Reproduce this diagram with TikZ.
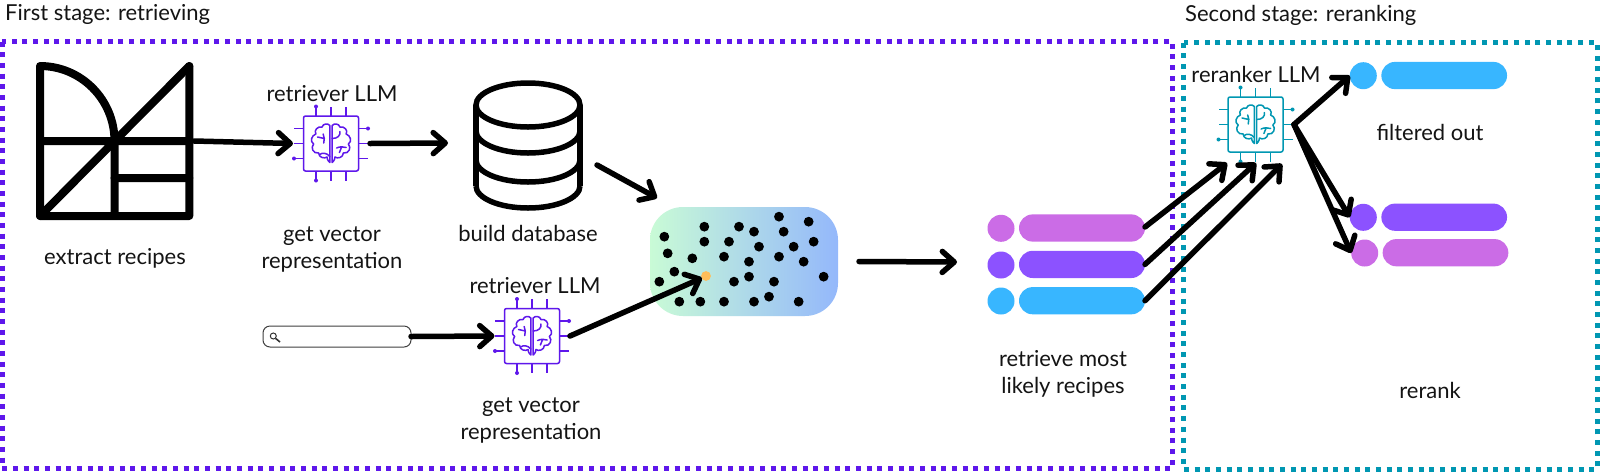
\documentclass[tikz,border=0pt]{standalone}
\usepackage{fontspec}
\setmainfont{Lato}
\usetikzlibrary{arrows.meta,calc}
\definecolor{cpurple}{HTML}{5E17EB}
\definecolor{cteal}{HTML}{0097B2}
\definecolor{cpink}{HTML}{CB6CE6}
\definecolor{cviolet}{HTML}{8C52FF}
\definecolor{cblue}{HTML}{38B6FF}
\definecolor{corange}{HTML}{FFBD59}
\definecolor{gleft}{HTML}{C9FBD6}
\definecolor{gright}{HTML}{94B8FB}
\tikzset{
  lab/.style={font=\fontsize{22}{26}\selectfont,text=black!92,inner sep=0pt,align=center},
  arr/.style={line width=5.5pt,-{Straight Barb[round,length=12pt,width=21pt]},black,line cap=round,line join=round},
  stagebox/.style={line width=5pt,dash pattern=on 5pt off 5.67pt},
  blob/.style={circle,fill=#1,minimum size=27pt,inner sep=0pt,outer sep=0pt},
  bar/.style={rounded corners=13.6pt,fill=#1,minimum height=27.2pt,minimum width=126pt,inner sep=0pt,outer sep=0pt},
  ghost/.style={inner sep=0pt,outer sep=0pt},
  dotty/.style={circle,fill=black,minimum size=9.8pt,inner sep=0pt,outer sep=0pt},
}
\newcommand{\chipicon}[4]{%
  \node[draw=#4,line width=1.5pt,rounded corners=2pt,minimum size=55pt,inner sep=0pt,outer sep=0pt,fill=white] (#1) at (#2,#3) {};
  \begin{scope}[shift={(#2,#3)},draw=#4,line width=1.5pt]
    \foreach \k in {-15,0,15}{
      \draw (\k,-27.5) -- (\k,-37);
      \draw (\k,27.5) -- (\k,37);
      \draw (-27.5,\k) -- (-37,\k);
      \draw (27.5,\k) -- (37,\k);
    }
    \fill[#4] (-15,-37) circle (2pt) (-15,37) circle (2pt) (37,-15) circle (2pt) (-37,15) circle (2pt);
    \begin{scope}[line width=1.5pt,line join=round,line cap=round,xscale=1.12]
      \foreach \sx in {1,-1}{
      \begin{scope}[xscale=\sx]
        \draw (1,-18) .. controls (3,-20.5) and (7,-20) .. (8,-16.5)
           .. controls (12,-17.5) and (15.5,-13) .. (13.5,-9.5)
           .. controls (17.5,-8) and (19,-2) .. (15.5,0.5)
           .. controls (18.5,4) and (16,10.5) .. (11,9.5)
           .. controls (11,14) and (6,15.5) .. (3.5,13.5)
           .. controls (3.5,17) and (1,19) .. (1,19) -- (1,-18);
      \end{scope}}
      \draw (-12,-6.5) -- (-6,-5) (-7,-9.5) -- (-6,-5) -- (-6.5,-0.5);
      \draw (8,-12) .. controls (8.5,-8) and (6,-5) .. (1,-5);
      \draw (5,4.5) .. controls (8,3) and (11,3) .. (13.5,4) (9.5,3.5) .. controls (9,5.5) and (8.5,7) .. (7.5,9);
      \draw (-1,13) .. controls (-4,9) and (-8,9) .. (-10,11);
    \end{scope}
  \end{scope}%
}
\begin{document}
\begin{tikzpicture}[x=1pt,y=-1pt]
\useasboundingbox (0,0) rectangle (1600,475);
\fill[white] (0,0) rectangle (1600,475);
% stage frames
\draw[stagebox,cpurple] (2,41.5) rectangle (1172.7,468);
\draw[stagebox,cteal] (1183.7,42.7) rectangle (1597,469.3);
\node[lab,anchor=west] (stageA) at (5,14) {First stage: retrieving};
\node[lab,anchor=west] (stageB) at (1185,15) {Second stage: reranking};
% document icon
\node[ghost,minimum size=150pt] (icon) at (114.5,141) {};
\draw[line width=8pt,line join=round,line cap=round] (189.3,66) -- (189.3,216) -- (40,216) -- (40,66) .. controls (81,66) and (114.5,99.5) .. (114.5,141) -- (114.5,216);
\draw[line width=8pt,line cap=round] (40,141) -- (189.3,141) (114.5,178) -- (189.3,178) (40,216) -- (189.3,66);
\node[lab] (extract) at (115,258) {extract recipes};
% chips
\chipicon{r1}{331}{143.5}{cpurple}
\node[lab] (r1t) at (332,94) {retriever LLM};
\node[lab] (r1b) at (332,249) {get vector\\[1pt]representation};
% database
\node[ghost,minimum width=110pt,minimum height=132pt] (db) at (528,146) {};
\begin{scope}[line width=5.5pt]
\draw (528,105) ellipse [x radius=52,y radius=22];
\draw (476,105) -- (476,186) (580,105) -- (580,186);
\foreach \yy in {131,160,186}{
  \draw (476,\yy) .. controls (476,\yy+12) and (499,\yy+22) .. (528,\yy+22) .. controls (557,\yy+22) and (580,\yy+12) .. (580,\yy);
}
\end{scope}
\node[lab] (dbt) at (528,233) {build database};
% search
\node[draw=black!75,line width=1pt,rounded corners=7pt,minimum width=148pt,minimum height=21pt,inner sep=0pt,outer sep=0pt] (search) at (337,336.5) {};
\draw[line width=1pt,black!80] (273.3,336) circle (3pt);
\draw[line width=1.6pt,black!80] (275.6,338.4) -- (280,342);
\chipicon{r2}{532}{336}{cpurple}
\node[lab] (r2t) at (535,286) {retriever LLM};
\node[lab] (r2b) at (531,420) {get vector\\[1pt]representation};
% cloud
\node[rounded corners=33pt,left color=gleft,right color=gright,middle color=gleft!50!gright,minimum width=188pt,minimum height=109pt,inner sep=0pt,outer sep=0pt] (cloud) at (744,261.5) {};
\begin{scope}[shift={(620,190)},x=0.3333pt,y=-0.3333pt]
\foreach \px/\py in {477/80,566/95,253/110,357/110,402/125,491/125,133/140,253/155,327/155,581/155,417/170,521/170,143/190,217/205,312/200,387/215,477/200,551/215,163/245,118/275,342/275,387/260,462/275,611/260,178/335,241/335,312/335,402/335,447/320,536/335}
  \node[dotty] (d\px) at (\px,\py) {};
\node[dotty,fill=corange] (orange) at (258,258) {};
\end{scope}
% retrieved list
\node[blob=cpink] (lc1) at (1001,228.3) {};
\node[bar=cpink] (lb1) at (1082,228) {};
\node[blob=cviolet] (lc2) at (1001,265) {};
\node[bar=cviolet] (lb2) at (1082,264.4) {};
\node[blob=cblue] (lc3) at (1001,301) {};
\node[bar=cblue] (lb3) at (1082,300.7) {};
\node[lab] (listt) at (1063,373.5) {retrieve most\\[1pt]likely recipes};
% reranker
\chipicon{r3}{1255.5}{124.5}{cteal}
\node[lab] (r3t) at (1256,74) {reranker LLM};
\node[blob=cblue] (oc1) at (1363.3,75.7) {};
\node[bar=cblue,minimum width=125.7pt] (ob1) at (1444.2,75.5) {};
\node[lab] (outt) at (1430,132) {filtered out};
\node[blob=cviolet] (oc2) at (1363.3,217.3) {};
\node[bar=cviolet,minimum width=125.7pt] (ob2) at (1444.2,217.2) {};
\node[blob=cpink] (oc3) at (1364.7,253) {};
\node[bar=cpink,minimum width=125.7pt] (ob3) at (1445.5,252.7) {};
\node[lab] (rerank) at (1430,390) {rerank};
\coordinate (listin) at (957,262);
% connectors
\draw[arr] ([xshift=4.5pt]icon.east) -- ([shift={(-10.5pt,0pt)}]r1.west);
\draw[arr] ([xshift=11.5pt]r1.east) -- ([shift={(-25pt,3pt)}]db.west);
\draw[arr] ([shift={(14pt,-19pt)}]db.east) -- ([shift={(7pt,9pt)}]cloud.north west);
\draw[arr] (search.east) -- ([xshift=-10pt]r2.west);
\draw[arr] ([xshift=10.5pt]r2.east) -- ([shift={(-4pt,-2pt)}]orange.center);
\draw[arr] ([xshift=21pt]cloud.east) -- (listin);
\draw[arr] ([yshift=1pt]lb1.east) -- ([shift={(-1pt,-11pt)}]r3.south west);
\draw[arr] (lb2.east) -- ([shift={(0.5pt,-11pt)}]r3.south);
\draw[arr] (lb3.east) -- ([shift={(-1pt,-12pt)}]r3.south east);
\draw[arr] ([xshift=11pt]r3.east) -- (oc1.west);
\draw[arr] ([xshift=11pt]r3.east) -- (oc2.west);
\draw[arr] ([xshift=11pt]r3.east) -- (oc3.west);
\end{tikzpicture}
\end{document}
